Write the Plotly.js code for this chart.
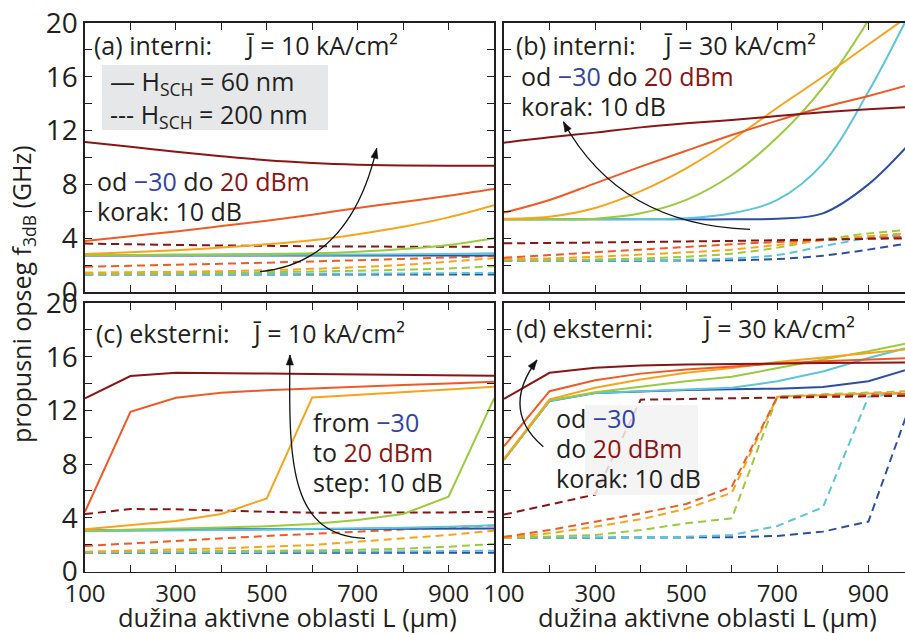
<!DOCTYPE html>
<html>
<head>
<meta charset="utf-8">
<script src="https://cdn.plot.ly/plotly-3.0.1.min.js"></script>
<style>
html,body{margin:0;padding:0;overflow:hidden;background:#fff;}
#chart{width:920px;height:633px;}
</style>
</head>
<body>
<div id="chart"></div>
<script>
// ---------- data ----------
const L = [100,200,300,400,500,600,700,800,900,1000];
const powerLabels = ['-30 dBm','-20 dBm','-10 dBm','0 dBm','10 dBm','20 dBm'];
const powerColors = ['#2c4ea3','#5bc5dc','#9acb3c','#f9a31b','#f05a24','#8a1517'];

// (a) internal, J = 10 kA/cm2
const a60_m30 = [2.72,2.72,2.72,2.72,2.72,2.72,2.72,2.72,2.72,2.72];
const a60_m20 = [2.75,2.75,2.75,2.75,2.76,2.77,2.78,2.8,2.83,2.88];
const a60_m10 = [2.75,2.75,2.78,2.8,2.83,2.88,3.0,3.2,3.5,4.0];
const a60_0   = [2.83,2.95,3.1,3.3,3.55,3.85,4.3,4.85,5.55,6.45];
const a60_10  = [3.8,4.15,4.5,4.9,5.3,5.75,6.25,6.7,7.15,7.65];
const a60_20  = [11.15,10.8,10.43,10.1,9.8,9.6,9.47,9.4,9.38,9.38];
const a200_m30 = [1.3,1.3,1.3,1.3,1.3,1.3,1.3,1.3,1.3,1.3];
const a200_m20 = [1.32,1.32,1.32,1.33,1.34,1.35,1.36,1.38,1.4,1.42];
const a200_m10 = [1.35,1.37,1.4,1.43,1.47,1.52,1.58,1.66,1.75,1.92];
const a200_0   = [1.45,1.47,1.5,1.55,1.62,1.72,1.85,2.02,2.25,2.52];
const a200_10  = [1.88,1.95,2.03,2.1,2.18,2.27,2.36,2.46,2.57,2.7];
const a200_20  = [3.6,3.55,3.5,3.46,3.43,3.4,3.38,3.37,3.36,3.35];

// (b) internal, J = 30 kA/cm2
const b60_m30 = [5.4,5.4,5.4,5.4,5.4,5.4,5.45,5.85,8.0,11.4];
const b60_m20 = [5.4,5.4,5.4,5.42,5.48,5.85,6.85,9.55,14.9,21.4];
const b60_m10 = [5.4,5.4,5.45,5.85,6.85,8.7,11.5,15.2,20.2,26];
const b60_0   = [5.45,5.6,6.25,7.5,9.2,11.3,13.7,16.0,18.4,20.8];
const b60_10  = [5.9,6.84,8.08,9.32,10.5,11.67,12.74,13.73,14.57,15.5];
const b60_20  = [11.1,11.5,11.85,12.24,12.54,12.79,13.08,13.36,13.58,13.77];
const b200_m30 = [2.33,2.33,2.33,2.33,2.34,2.36,2.45,2.7,3.15,3.7];
const b200_m20 = [2.33,2.33,2.34,2.36,2.4,2.5,2.75,3.4,4.0,4.3];
const b200_m10 = [2.35,2.37,2.42,2.5,2.62,2.85,3.3,3.9,4.35,4.65];
const b200_0   = [2.43,2.5,2.62,2.78,2.95,3.15,3.5,3.85,4.15,4.4];
const b200_10  = [2.55,2.75,2.95,3.15,3.35,3.55,3.72,3.87,4.0,4.12];
const b200_20  = [3.62,3.65,3.68,3.72,3.76,3.8,3.85,3.9,3.95,4.0];

// (c) external, J = 10 kA/cm2
const c60_m30 = [3.05,3.1,3.12,3.14,3.15,3.16,3.17,3.18,3.19,3.2];
const c60_m20 = [3.0,3.05,3.08,3.1,3.12,3.15,3.2,3.25,3.33,3.45];
const c60_m10 = [3.04,3.14,3.2,3.27,3.37,3.54,3.83,4.28,5.57,12.9];
const c60_0   = [3.14,3.46,3.76,4.28,5.45,12.97,13.15,13.35,13.55,13.76];
const c60_10  = [4.45,11.9,12.94,13.31,13.5,13.65,13.78,13.9,14.0,14.13];
const c60_20  = [12.9,14.56,14.8,14.8,14.75,14.72,14.68,14.65,14.62,14.58];
const c200_m30 = [1.4,1.4,1.4,1.4,1.4,1.4,1.4,1.4,1.4,1.4];
const c200_m20 = [1.4,1.41,1.42,1.43,1.44,1.46,1.48,1.5,1.52,1.55];
const c200_m10 = [1.45,1.47,1.48,1.5,1.53,1.57,1.62,1.7,1.85,2.05];
const c200_0   = [1.48,1.55,1.65,1.72,1.85,1.97,2.22,2.47,2.72,3.04];
const c200_10  = [1.9,2.1,2.3,2.47,2.65,2.8,2.97,3.14,3.3,3.42];
const c200_20  = [4.28,4.65,4.63,4.52,4.45,4.38,4.37,4.38,4.4,4.45];

// (d) external, J = 30 kA/cm2
const d60_m30 = [8.35,12.7,13.3,13.43,13.52,13.58,13.62,13.75,14.17,15.2];
const d60_m20 = [8.35,12.7,13.3,13.43,13.55,13.68,14.17,14.9,15.9,16.8];
const d60_m10 = [8.3,12.75,13.35,13.75,14.17,14.5,15.16,15.79,16.4,17.1];
const d60_0   = [8.39,12.82,13.68,14.3,14.8,15.16,15.6,15.95,16.28,16.6];
const d60_10  = [9.33,13.43,14.25,14.74,15.04,15.29,15.49,15.66,15.79,15.9];
const d60_20  = [12.86,14.8,15.17,15.34,15.41,15.46,15.5,15.53,15.55,15.58];
const d200_m30 = [2.5,2.5,2.5,2.5,2.52,2.55,2.65,2.97,3.72,13.2];
const d200_m20 = [2.5,2.5,2.52,2.54,2.58,2.72,3.39,4.78,13.02,13.4];
const d200_m10 = [2.5,2.6,2.72,3.09,3.59,3.96,13.02,13.2,13.35,13.45];
const d200_0   = [2.5,2.84,3.34,3.89,4.67,5.86,13.02,13.15,13.25,13.35];
const d200_10  = [2.58,3.09,3.71,4.33,5.03,6.32,13.02,13.1,13.2,13.25];
const d200_20  = [4.24,4.99,5.73,12.8,12.85,12.9,12.95,13.0,13.05,13.1];

const xTickVals = [100,300,500,700,900];
const xTickText = ['100','300','500','700','900'];
const xMinorVals = [200,400,600,800,1000];
const yTickVals = [0,4,8,12,16,20];
const yTickText = ['0','4','8','12','16','20'];
const yMinorVals = [2,6,10,14,18];

// ---------- build ----------
const W = 920, H = 633;
const fx = px => px / W;
const fy = py => 1 - py / H;
const FONT = 'Open Sans, Noto Sans, sans-serif';
const TXT = '#231f20';

const panels = [
  {sfx:'',  smooth:true,  s:[a60_m30,a60_m20,a60_m10,a60_0,a60_10,a60_20], d:[a200_m30,a200_m20,a200_m10,a200_0,a200_10,a200_20]},
  {sfx:'2', smooth:true,  s:[b60_m30,b60_m20,b60_m10,b60_0,b60_10,b60_20], d:[b200_m30,b200_m20,b200_m10,b200_0,b200_10,b200_20]},
  {sfx:'3', smooth:false, s:[c60_m30,c60_m20,c60_m10,c60_0,c60_10,c60_20], d:[c200_m30,c200_m20,c200_m10,c200_0,c200_10,c200_20]},
  {sfx:'4', smooth:false, s:[d60_m30,d60_m20,d60_m10,d60_0,d60_10,d60_20], d:[d200_m30,d200_m20,d200_m10,d200_0,d200_10,d200_20]}
];

const traces = [];
panels.forEach(p => {
  const shape = p.smooth ? 'spline' : 'linear';
  p.d.forEach((ys,i) => traces.push({
    x: L, y: ys, xaxis:'x'+p.sfx, yaxis:'y'+p.sfx, mode:'lines', name: powerLabels[i]+' 200 nm',
    line:{color:powerColors[i], width:2, dash:'8px,5px', shape:shape, smoothing:1}, showlegend:false, hoverinfo:'skip'
  }));
  p.s.forEach((ys,i) => traces.push({
    x: L, y: ys, xaxis:'x'+p.sfx, yaxis:'y'+p.sfx, mode:'lines', name: powerLabels[i]+' 60 nm',
    line:{color:powerColors[i], width:2, shape:shape, smoothing:1}, showlegend:false, hoverinfo:'skip'
  }));
});

const TC = '#231f20';
function xax(domain, anchor, labels){
  return {domain:domain, anchor:anchor, range:[100,1000], tickmode:'array', tickvals:xTickVals,
    ticktext:xTickText, showticklabels:labels, ticks:'inside', ticklen:7, tickwidth:1, tickcolor:TC,
    minor:{tickmode:'array', tickvals:xMinorVals, ticks:'inside', ticklen:7, tickwidth:1, tickcolor:TC, showgrid:false},
    showline:true, linecolor:TC, linewidth:1.6, mirror:'ticks', showgrid:false, zeroline:false,
    tickfont:{family:FONT, size:24, color:TXT}};
}
function yax(domain, anchor, labels){
  return {domain:domain, anchor:anchor, range:[0,20], tickmode:'array', tickvals:yTickVals,
    ticktext:yTickText, showticklabels:labels, ticks:'inside', ticklen:7, tickwidth:1, tickcolor:TC,
    minor:{tickmode:'array', tickvals:yMinorVals, ticks:'inside', ticklen:7, tickwidth:1, tickcolor:TC, showgrid:false},
    showline:true, linecolor:TC, linewidth:1.6, mirror:'ticks', showgrid:false, zeroline:false,
    tickfont:{family:FONT, size:28, color:TXT}};
}
const xdA = [fx(85), fx(494)], xdB = [fx(504), fx(914)];
const ydTop = [fy(292), fy(23)], ydBot = [fy(571.5), fy(303)];

const BLUE = '#3343a5', RED = '#8a1517';
const AS = 25;
function ann(px, py, text, extra){
  return Object.assign({xref:'paper', yref:'paper', x:fx(px), y:fy(py), text:text, showarrow:false,
    xanchor:'left', yanchor:'middle', font:{family:FONT, size:AS, color:TXT}}, extra||{});
}
const odTxt = 'od <span style="color:'+BLUE+'">−30</span> do <span style="color:'+RED+'">20 dBm</span>';

const annotations = [
  ann(92, 45, '(a) interni:'), ann(243, 45, 'J̄ = 10 kA/cm²'),
  ann(108, 83, '— H<sub>SCH</sub> = 60 nm'), ann(108, 115, '--- H<sub>SCH</sub> = 200 nm'),
  ann(95, 181, odTxt), ann(95, 211, 'korak: 10 dB'),
  ann(514, 45, '(b) interni:'), ann(661, 45, 'J̄ = 30 kA/cm²'),
  ann(519, 76, odTxt), ann(519, 106, 'korak: 10 dB'),
  ann(94, 333, '(c) eksterni:'), ann(250, 333, 'J̄ = 10 kA/cm²'),
  ann(311, 422, 'from <span style="color:'+BLUE+'">−30</span>'),
  ann(311, 452, 'to <span style="color:'+RED+'">20 dBm</span>'),
  ann(311, 482, 'step: 10 dB'),
  ann(514, 328, '(d) eksterni:'), ann(700, 328, 'J̄ = 30 kA/cm²'),
  ann(554, 418, 'od <span style="color:'+BLUE+'">−30</span>'),
  ann(554, 448, 'do <span style="color:'+RED+'">20 dBm</span>'),
  ann(554, 478, 'korak: 10 dB'),
  ann(22, 294, 'propusni opseg f<sub>3dB</sub> (GHz)', {xanchor:'center', textangle:-90}),
  ann(116, 617, 'dužina aktivne oblasti L (µm)', {font:{family:FONT, size:25.5, color:TXT}}),
  ann(536, 617, 'dužina aktivne oblasti L (µm)', {font:{family:FONT, size:25.5, color:TXT}})
];

const P = (px,py) => fx(px)+','+fy(py);
// arrowhead triangle: tip (tx,ty), back-direction (ux,uy) in pixel space
function headPath(tx, ty, ux, uy){
  const n = Math.hypot(ux,uy); ux/=n; uy/=n;
  const nx = -uy, ny = ux, len = 10, half = 3.6;
  const bx = tx + ux*len, by = ty + uy*len;
  return 'M'+P(tx,ty)+' L'+P(bx+nx*half, by+ny*half)+' L'+P(bx-nx*half, by-ny*half)+' Z';
}
const arrowLine = {color:'#111', width:1.3};
const shapes = [
  {type:'rect', xref:'paper', yref:'paper', x0:fx(102), x1:fx(328), y0:fy(130), y1:fy(65), fillcolor:'#e6e7e8', line:{width:0}, layer:'below'},
  {type:'rect', xref:'paper', yref:'paper', x0:fx(585), x1:fx(698), y0:fy(495), y1:fy(405), fillcolor:'rgba(242,242,242,0.85)', line:{width:0}, layer:'above'},
  {type:'path', xref:'paper', yref:'paper', path:'M'+P(260,271.7)+' Q'+P(350,263)+' '+P(376.7,148.3), line:arrowLine},
  {type:'path', xref:'paper', yref:'paper', path:'M'+P(750,229.3)+' Q'+P(620,225)+' '+P(563.3,121.7), line:arrowLine},
  {type:'path', xref:'paper', yref:'paper', path:'M'+P(365,538.3)+' C'+P(292,535)+' '+P(288,470)+' '+P(290,355), line:arrowLine},
  {type:'path', xref:'paper', yref:'paper', path:'M'+P(543.3,446.7)+' Q'+P(500,410)+' '+P(537,360), line:arrowLine},
  {type:'path', xref:'paper', yref:'paper', path:headPath(376.7,148.3,-26.7,114.7), fillcolor:'#111', line:{color:'#111', width:0.5}},
  {type:'path', xref:'paper', yref:'paper', path:headPath(563.3,121.7,56.7,103.3), fillcolor:'#111', line:{color:'#111', width:0.5}},
  {type:'path', xref:'paper', yref:'paper', path:headPath(290,355,-2,115), fillcolor:'#111', line:{color:'#111', width:0.5}},
  {type:'path', xref:'paper', yref:'paper', path:headPath(537,360,-37,50), fillcolor:'#111', line:{color:'#111', width:0.5}}
];

const layout = {
  width:W, height:H, margin:{l:0,r:0,t:0,b:0}, paper_bgcolor:'#fff', plot_bgcolor:'#fff',
  font:{family:FONT, color:TXT}, showlegend:false,
  xaxis: xax(xdA,'y',false),  yaxis: yax(ydTop,'x',true),
  xaxis2: xax(xdB,'y2',false), yaxis2: yax(ydTop,'x2',false),
  xaxis3: xax(xdA,'y3',true), yaxis3: yax(ydBot,'x3',true),
  xaxis4: xax(xdB,'y4',true), yaxis4: yax(ydBot,'x4',false),
  annotations: annotations, shapes: shapes
};
Plotly.newPlot('chart', traces, layout, {staticPlot:true, displayModeBar:false});
</script>
</body>
</html>
